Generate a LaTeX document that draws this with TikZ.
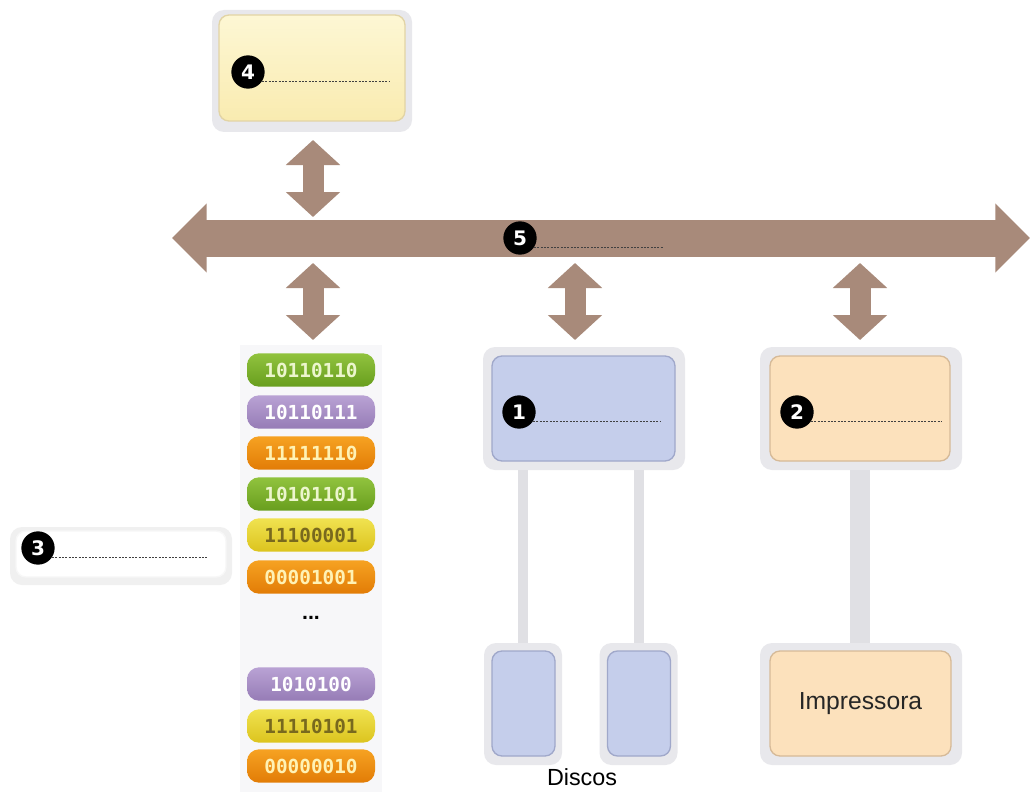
\documentclass[tikz,border=0pt]{standalone}
\usepackage{fontspec}
\setmainfont{Liberation Sans}
\newfontfamily\binfont{DejaVu Sans Mono}
\newfontfamily\numfont{DejaVu Sans}
\usetikzlibrary{arrows.meta}

\definecolor{busbrown}{RGB}{168,138,122}
\definecolor{framegray}{RGB}{232,232,236}
\definecolor{linkgray}{RGB}{224,224,228}
\definecolor{ylwtop}{RGB}{253,247,212}
\definecolor{ylwbot}{RGB}{249,235,176}
\definecolor{ylwedge}{RGB}{226,212,165}
\definecolor{bluefill}{RGB}{197,206,235}
\definecolor{blueedge}{RGB}{160,168,202}
\definecolor{peachfill}{RGB}{252,225,188}
\definecolor{peachedge}{RGB}{214,186,152}
\definecolor{grntop}{RGB}{145,195,62}
\definecolor{grnbot}{RGB}{104,158,30}
\definecolor{grntxt}{RGB}{236,246,205}
\definecolor{purtop}{RGB}{185,162,212}
\definecolor{purbot}{RGB}{150,124,182}
\definecolor{orgtop}{RGB}{246,162,34}
\definecolor{orgbot}{RGB}{226,124,6}
\definecolor{orgtxt}{RGB}{255,242,180}
\definecolor{yeltop}{RGB}{240,226,80}
\definecolor{yelbot}{RGB}{220,196,30}
\definecolor{yeltxt}{RGB}{120,105,30}
\definecolor{columnbg}{RGB}{247,247,249}

\tikzset{
  frame/.style={fill=framegray, rounded corners=9pt, inner sep=0pt},
  panel/.style={rounded corners=7.5pt, inner sep=0pt, line width=1pt},
  marker/.style={circle, fill=black, text=white, minimum size=25pt, inner sep=0pt,
    font=\numfont\bfseries\fontsize{15}{15}\selectfont},
  dotline/.style={line width=0.9pt, black!75, dash pattern=on 1.5pt off 1pt},
  buslink/.style={busbrown, line width=15.75pt,
    {Triangle[length=18.75pt 0, width=39.75pt 0]}-{Triangle[length=18.75pt 0, width=39.75pt 0]}},
  busline/.style={busbrown, line width=27.75pt,
    {Triangle[length=26pt 0, width=50.25pt 0]}-{Triangle[length=26pt 0, width=50.25pt 0]}},
  wire/.style={linkgray, line width=7.5pt},
  pill/.style={minimum width=96pt, minimum height=25pt, rounded corners=9pt, inner sep=0pt,
    font=\binfont\bfseries\fontsize{14.5}{14.5}\selectfont},
  grn/.style={pill, top color=grntop, bottom color=grnbot, text=grntxt},
  pur/.style={pill, top color=purtop, bottom color=purbot, text=white},
  org/.style={pill, top color=orgtop, bottom color=orgbot, text=orgtxt},
  yel/.style={pill, top color=yeltop, bottom color=yelbot, text=yeltxt},
}

\begin{document}
\begin{tikzpicture}[x=0.75pt, y=-0.75pt]
\useasboundingbox[fill=white] (0,0) rectangle (1030,795);

% memory column background
\fill[columnbg] (240,345) rectangle (382,792);

% box 4 (top)
\node[frame, minimum width=150pt, minimum height=91.5pt] (f4) at (312,71) {};
\node[panel, top color=ylwtop, bottom color=ylwbot, draw=ylwedge,
      minimum width=139.5pt, minimum height=79.5pt] (b4) at (312,68) {};

% box 1 (blue) and its disks
\node[frame, minimum width=151.5pt, minimum height=92.25pt] (f1) at (584,408.5) {};
\node[frame, minimum width=58.5pt, minimum height=91.5pt] (fd1) at (523,704) {};
\node[frame, minimum width=58.5pt, minimum height=91.5pt] (fd2) at (638.5,704) {};
\draw[wire] (f1.south -| fd1.north) -- (fd1.north);
\draw[wire] (f1.south -| fd2.north) -- (fd2.north);
\node[panel, fill=bluefill, draw=blueedge, minimum width=137.25pt, minimum height=78.75pt] (b1) at (583.5,408.5) {};
\node[panel, fill=bluefill, draw=blueedge, minimum width=47.25pt, minimum height=78.75pt] (d1) at (523.5,703.5) {};
\node[panel, fill=bluefill, draw=blueedge, minimum width=47.25pt, minimum height=78.75pt] (d2) at (639,703.5) {};
\node[font=\fontsize{17.5}{17.5}\selectfont] (discos) at (582,777) {Discos};

% box 2 (peach) and the printer
\node[frame, minimum width=151.5pt, minimum height=92.25pt] (f2) at (861,408.5) {};
\node[frame, minimum width=151.5pt, minimum height=91.5pt] (fp) at (861,704) {};
\draw[linkgray, line width=15pt] (f2.south -| 860,0) -- (fp.north -| 860,0);
\node[panel, fill=peachfill, draw=peachedge, minimum width=135pt, minimum height=78.75pt] (b2) at (860,408.5) {};
\node[panel, fill=peachfill, draw=peachedge, minimum width=135.75pt, minimum height=78.75pt,
      font=\fontsize{18.5}{18.5}\selectfont, text=black!85] (printer) at (860.5,703.5) {Impressora};

% box 3 (left)
\node[frame, fill=black!6, minimum width=166.5pt, minimum height=43.5pt] (f3) at (121,556) {};
\node[panel, fill=white, draw=black!3, minimum width=157.5pt, minimum height=34.5pt] (b3) at (121,554) {};

% memory words
\node[grn] (m1) at (311,370) {10110110};
\node[pur] (m2) at (311,412) {10110111};
\node[org] (m3) at (311,453) {11111110};
\node[grn] (m4) at (311,494) {10101101};
\node[yel] (m5) at (311,535) {11100001};
\node[org] (m6) at (311,577) {00001001};
\node[font=\bfseries\fontsize{16}{16}\selectfont] (dots) at (311,618) {...};
\node[pur] (m7) at (311,684) {1010100};
\node[yel] (m8) at (311,726) {11110101};
\node[org] (m9) at (311,766) {00000010};

% system bus
\coordinate (busL) at (172,238);
\coordinate (busR) at (1030,238);
\draw[busline] (busL) -- (busR);

% links to the bus
\coordinate (t4) at (313,140);  \coordinate (u4) at (313,217);
\coordinate (tm) at (313,263);  \coordinate (um) at (313,340);
\coordinate (t1) at (575,263);  \coordinate (u1) at (575,340);
\coordinate (t2) at (860,263);  \coordinate (u2) at (860,340);
\draw[buslink] (t4) -- (u4);
\draw[buslink] (tm) -- (um);
\draw[buslink] (t1) -- (u1);
\draw[buslink] (t2) -- (u2);

% numbered markers with their blank label lines
\coordinate (e4) at (390,0);
\coordinate (e5) at (663,0);
\coordinate (e1) at (660,0);
\coordinate (e2) at (942,0);
\coordinate (e3) at (207,0);
\node[marker] (c4) at (248,72) {4};
\node[marker] (c5) at (520,238) {5};
\node[marker] (c1) at (519,412) {1};
\node[marker] (c2) at (797,412) {2};
\node[marker] (c3) at (38,548) {3};
\draw[dotline] (c4.-35) -- (c4.-35 -| e4);
\draw[dotline] (c5.-35) -- (c5.-35 -| e5);
\draw[dotline] (c1.-35) -- (c1.-35 -| e1);
\draw[dotline] (c2.-35) -- (c2.-35 -| e2);
\draw[dotline] (c3.-35) -- (c3.-35 -| e3);
\end{tikzpicture}
\end{document}
